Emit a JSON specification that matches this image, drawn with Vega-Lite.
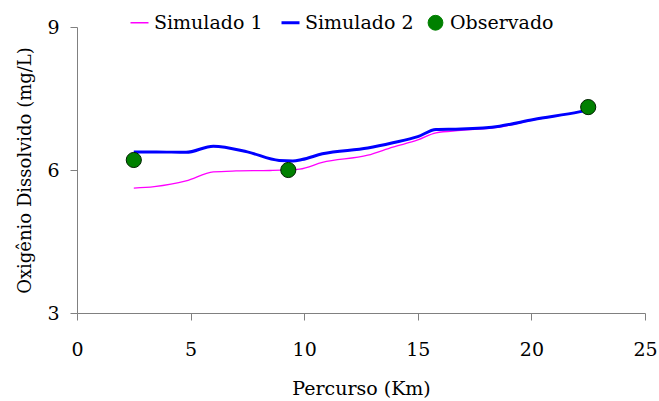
{
  "$schema": "https://vega.github.io/schema/vega-lite/v6.json",
  "width": 568,
  "height": 286,
  "autosize": "none",
  "padding": {"left": 77, "top": 27, "right": 14, "bottom": 88},
  "background": "white",
  "config": {
    "view": {"stroke": null},
    "font": "DejaVu Serif",
    "legend": {"labelFont": "DejaVu Serif"},
    "axis": {"grid": false, "labelFlush": false, "domainColor": "#808080", "tickColor": "#808080", "labelFont": "DejaVu Serif", "titleFont": "DejaVu Serif", "labelColor": "black", "titleColor": "black", "labelFontSize": 19, "titleFontSize": 19, "titleFontWeight": "normal", "tickSize": 7}
  },
  "data": {"values": [
    {"km": 2.5, "od": 5.62, "serie": "Simulado 1"},
    {"km": 3.4, "od": 5.65, "serie": "Simulado 1"},
    {"km": 4.8, "od": 5.77, "serie": "Simulado 1"},
    {"km": 6.0, "od": 5.96, "serie": "Simulado 1"},
    {"km": 7.0, "od": 5.98, "serie": "Simulado 1"},
    {"km": 8.5, "od": 5.99, "serie": "Simulado 1"},
    {"km": 9.8, "od": 6.02, "serie": "Simulado 1"},
    {"km": 10.8, "od": 6.16, "serie": "Simulado 1"},
    {"km": 12.8, "od": 6.31, "serie": "Simulado 1"},
    {"km": 13.9, "od": 6.48, "serie": "Simulado 1"},
    {"km": 15.0, "od": 6.63, "serie": "Simulado 1"},
    {"km": 15.8, "od": 6.78, "serie": "Simulado 1"},
    {"km": 16.9, "od": 6.83, "serie": "Simulado 1"},
    {"km": 18.6, "od": 6.90, "serie": "Simulado 1"},
    {"km": 20.1, "od": 7.05, "serie": "Simulado 1"},
    {"km": 22.1, "od": 7.22, "serie": "Simulado 1"},
    {"km": 22.5, "od": 7.26, "serie": "Simulado 1"},
    {"km": 2.5, "od": 6.38, "serie": "Simulado 2"},
    {"km": 3.5, "od": 6.38, "serie": "Simulado 2"},
    {"km": 4.8, "od": 6.37, "serie": "Simulado 2"},
    {"km": 6.0, "od": 6.50, "serie": "Simulado 2"},
    {"km": 7.5, "od": 6.38, "serie": "Simulado 2"},
    {"km": 8.9, "od": 6.20, "serie": "Simulado 2"},
    {"km": 9.5, "od": 6.19, "serie": "Simulado 2"},
    {"km": 9.9, "od": 6.22, "serie": "Simulado 2"},
    {"km": 10.8, "od": 6.34, "serie": "Simulado 2"},
    {"km": 12.8, "od": 6.46, "serie": "Simulado 2"},
    {"km": 13.9, "od": 6.57, "serie": "Simulado 2"},
    {"km": 15.0, "od": 6.70, "serie": "Simulado 2"},
    {"km": 15.8, "od": 6.85, "serie": "Simulado 2"},
    {"km": 16.9, "od": 6.86, "serie": "Simulado 2"},
    {"km": 18.6, "od": 6.92, "serie": "Simulado 2"},
    {"km": 20.1, "od": 7.06, "serie": "Simulado 2"},
    {"km": 22.1, "od": 7.22, "serie": "Simulado 2"},
    {"km": 22.5, "od": 7.26, "serie": "Simulado 2"},
    {"km": 2.5, "od": 6.21, "serie": "Observado"},
    {"km": 9.3, "od": 6.0, "serie": "Observado"},
    {"km": 22.5, "od": 7.32, "serie": "Observado"}
  ]},
  "encoding": {
    "x": {"field": "km", "type": "quantitative", "scale": {"domain": [0, 25], "nice": false}, "axis": {"values": [0, 5, 10, 15, 20, 25], "title": "Percurso (Km)", "labelPadding": 20, "titlePadding": 20}},
    "y": {"field": "od", "type": "quantitative", "scale": {"domain": [3, 9], "nice": false, "zero": false}, "axis": {"values": [3, 6, 9], "title": "Oxigênio Dissolvido (mg/L)", "titleFontSize": 18, "labelPadding": 11, "titlePadding": 12}},
    "color": {"field": "serie", "type": "nominal", "scale": {"domain": ["Simulado 1", "Simulado 2", "Observado"], "range": ["#FF00FF", "#0000FF", "#008000"]},
      "legend": {"title": null, "orient": "none", "legendX": 53, "legendY": -14, "direction": "horizontal", "labelFontSize": 19, "labelColor": "black", "symbolSize": 324, "labelOffset": 5, "columnPadding": 12,
        "encode": {"symbols": {"update": {
          "shape": {"signal": "datum.value === 'Observado' ? 'circle' : 'stroke'"},
          "strokeWidth": {"signal": "datum.value === 'Simulado 1' ? 1.5 : (datum.value === 'Simulado 2' ? 3 : 1)"},
          "stroke": {"signal": "datum.value === 'Observado' ? '#003300' : (datum.value === 'Simulado 1' ? '#FF00FF' : '#0000FF')"},
          "fill": {"signal": "datum.value === 'Observado' ? '#008000' : 'transparent'"},
          "size": {"signal": "datum.value === 'Observado' ? 220 : 324"},
          "opacity": {"value": 1}
        }}}}}
  },
  "layer": [
    {"transform": [{"filter": "datum.serie === 'Simulado 1'"}], "mark": {"type": "line", "interpolate": "monotone", "strokeWidth": 1.3}},
    {"transform": [{"filter": "datum.serie === 'Simulado 2'"}], "mark": {"type": "line", "interpolate": "monotone", "strokeWidth": 3}},
    {"transform": [{"filter": "datum.serie === 'Observado'"}], "mark": {"type": "point", "filled": true, "size": 230, "stroke": "#002200", "strokeWidth": 1, "opacity": 1}}
  ]
}
